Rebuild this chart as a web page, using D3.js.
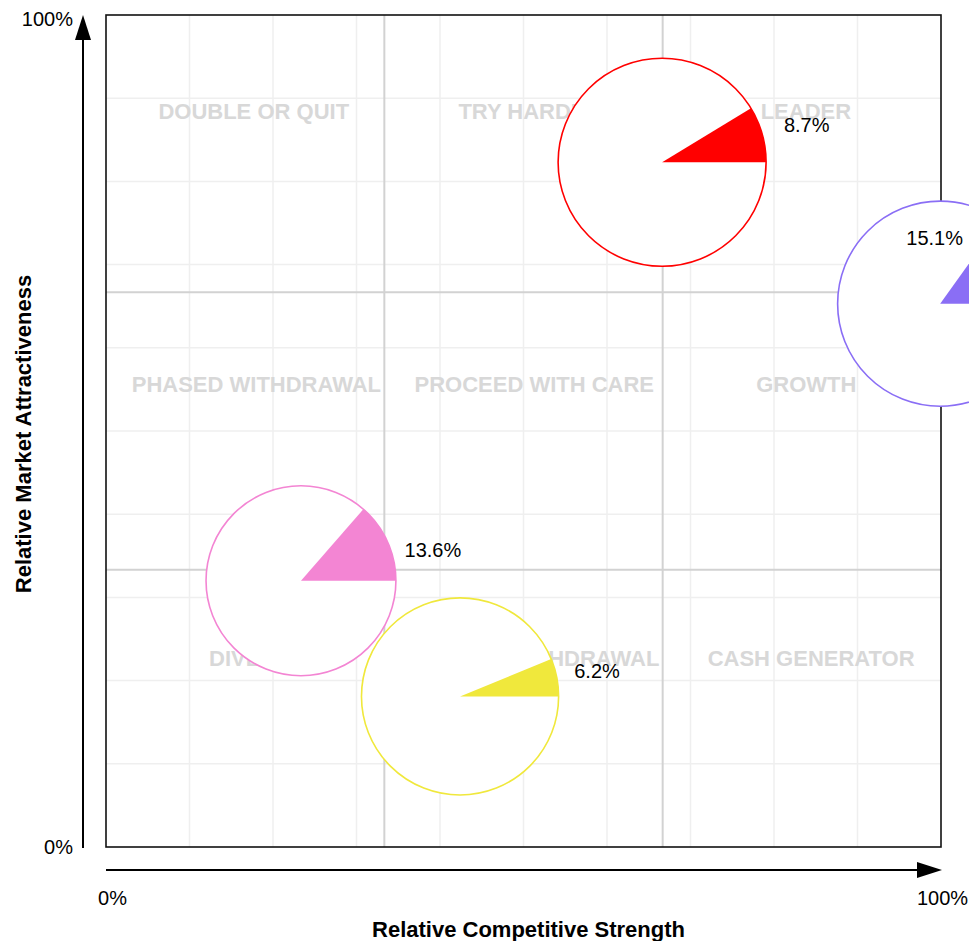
<!DOCTYPE html>
<html>
<head>
<meta charset="utf-8">
<script src="https://cdn.jsdelivr.net/npm/d3@7"></script>
<style>
  html, body { margin: 0; padding: 0; background: #fff; }
  svg { display: block; font-family: "Liberation Sans", Arial, Helvetica, sans-serif; }
</style>
</head>
<body>
<svg id="chart" width="969" height="941"></svg>
<script>
// Business portfolio: position (% of axis), market size and share per product
const strength       = [66.6, 99.9, 23.35, 42.4];
const attractiveness = [82.3, 65.3, 32.0, 18.1];
const marketSize     = [108, 105, 90, 97];
const share          = [8.7, 15.1, 13.6, 6.2];
const palette        = ["#ff0000", "#8a6ef5", "#f385d3", "#f0e83c"];

// Strategy names for the 3x3 grid, top row first, left to right
const quadrantNames = [
  ["DOUBLE OR QUIT", "TRY HARDER", "LEADER"],
  ["PHASED WITHDRAWAL", "PROCEED WITH CARE", "GROWTH"],
  ["DIVEST", "PHASED WITHDRAWAL", "CASH GENERATOR"]
];
const axisTicks = [0, 100];
const xTitle = "Relative Competitive Strength";
const yTitle = "Relative Market Attractiveness";

const W = 969, H = 941;
const plot = { left: 106, right: 941, top: 15, bottom: 847 };

const svg = d3.select("#chart");
const x = d3.scaleLinear().domain([0, 100]).range([plot.left, plot.right]);
const y = d3.scaleLinear().domain([0, 100]).range([plot.bottom, plot.top]);
const r = d3.scaleSqrt().domain([0, d3.max(marketSize)]).range([0, 104]);

// ---- grid ----
const grid = svg.append("g");
const minor = d3.range(10, 100, 10);
const major = [100 / 3, 200 / 3];
grid.selectAll("line.vx").data(minor).join("line")
  .attr("x1", d => x(d)).attr("x2", d => x(d))
  .attr("y1", plot.top).attr("y2", plot.bottom)
  .attr("stroke", "#efefef").attr("stroke-width", 1.5);
grid.selectAll("line.hy").data(minor).join("line")
  .attr("y1", d => y(d)).attr("y2", d => y(d))
  .attr("x1", plot.left).attr("x2", plot.right)
  .attr("stroke", "#efefef").attr("stroke-width", 1.5);
grid.selectAll("line.mx").data(major).join("line")
  .attr("x1", d => x(d)).attr("x2", d => x(d))
  .attr("y1", plot.top).attr("y2", plot.bottom)
  .attr("stroke", "#d2d2d2").attr("stroke-width", 2);
grid.selectAll("line.my").data(major).join("line")
  .attr("y1", d => y(d)).attr("y2", d => y(d))
  .attr("x1", plot.left).attr("x2", plot.right)
  .attr("stroke", "#d2d2d2").attr("stroke-width", 2);

// ---- strategy labels ----
const third = 100 / 3;
const nameBoxes = [];
quadrantNames.forEach((row, i) => {
  row.forEach((name, j) => {
    const cx = (x(j * third) + x((j + 1) * third)) / 2;
    const by = y(87.5 - i * 32.87);
    const t = svg.append("text")
      .attr("y", by)
      .attr("font-size", 22).attr("font-weight", "bold")
      .attr("fill", "#d8d8d8")
      .text(name);
    const w = t.node().getComputedTextLength();
    const x0 = cx - w * 0.455;
    t.attr("x", x0);
    nameBoxes.push({ x0, x1: x0 + w, base: by });
  });
});

// ---- plot frame ----
svg.append("rect")
  .attr("x", plot.left).attr("y", plot.top)
  .attr("width", plot.right - plot.left).attr("height", plot.bottom - plot.top)
  .attr("fill", "none").attr("stroke", "#111").attr("stroke-width", 1.6);

// ---- bubbles with share wedges ----
const items = strength.map((s, i) => ({
  s, a: attractiveness[i], size: marketSize[i], share: share[i], color: palette[i]
}));
const arc = d3.arc().innerRadius(0);
const bubble = svg.selectAll("g.bubble").data(items).join("g")
  .attr("class", "bubble")
  .attr("transform", d => `translate(${x(d.s)},${y(d.a)})`);
bubble.append("circle")
  .attr("r", d => r(d.size))
  .attr("fill", "#fff")
  .attr("stroke", d => d.color).attr("stroke-width", 1.6);
bubble.append("path")
  .attr("d", d => arc({
    outerRadius: r(d.size),
    startAngle: Math.PI / 2 - d.share / 100 * 2 * Math.PI,
    endAngle: Math.PI / 2
  }))
  .attr("fill", d => d.color);

// value labels: right of each bubble; dropped below a strategy name they would hit,
// pulled inside the bubble when they would leave the canvas
bubble.each(function (d) {
  const rad = r(d.size);
  const cx = x(d.s), cy = y(d.a);
  const t = d3.select(this).append("text")
    .attr("font-size", 20).attr("fill", "#000")
    .text(d.share + "%");
  const w = t.node().getComputedTextLength();
  let lx = cx + 1.4 * rad - 1, base = cy - 0.25 * rad;
  if (lx + w / 2 > W - 4) {
    lx = (W - 6) - w / 2;
    base = cy - 0.575 * rad;
  } else {
    nameBoxes.forEach(b => {
      const hitX = lx + w / 2 > b.x0 && lx - w / 2 < b.x1;
      const hitY = base - 15 < b.base + 5 && base + 4 > b.base - 16;
      if (hitX && hitY) base = b.base + 12.5;
    });
  }
  t.attr("x", lx - cx).attr("y", base - cy).attr("text-anchor", "middle");
});

// ---- axes with arrows ----
const xAxisY = 870, yAxisX = 83;
const xAxis = svg.append("g")
  .attr("transform", `translate(0,${xAxisY})`)
  .call(d3.axisBottom(x).tickValues(axisTicks).tickSize(0).tickPadding(21)
    .tickFormat(d => d + "%"));
xAxis.select(".domain").remove();
xAxis.selectAll("text").attr("font-size", 20).attr("fill", "#000")
  .attr("font-family", "Liberation Sans, Arial, sans-serif")
  .attr("dx", d => d === 0 ? 6 : 1);

const yAxis = svg.append("g")
  .attr("transform", `translate(${yAxisX},0)`)
  .call(d3.axisLeft(y).tickValues(axisTicks).tickSize(0).tickPadding(10)
    .tickFormat(d => d + "%"));
yAxis.select(".domain").remove();
yAxis.selectAll("text").attr("font-size", 20).attr("fill", "#000")
  .attr("font-family", "Liberation Sans, Arial, sans-serif")
  .attr("dy", d => d === 100 ? "0.52em" : "0.32em");

const head = 25, half = 8;
svg.append("line")
  .attr("x1", x(0)).attr("x2", x(100) + 1 - head)
  .attr("y1", xAxisY).attr("y2", xAxisY)
  .attr("stroke", "#000").attr("stroke-width", 2);
svg.append("path")
  .attr("d", `M${x(100) + 1},${xAxisY} L${x(100) + 1 - head},${xAxisY - half} L${x(100) + 1 - head},${xAxisY + half} Z`)
  .attr("fill", "#000");
svg.append("line")
  .attr("x1", yAxisX).attr("x2", yAxisX)
  .attr("y1", y(0) + 1).attr("y2", y(100) + head)
  .attr("stroke", "#000").attr("stroke-width", 2);
svg.append("path")
  .attr("d", `M${yAxisX},${y(100)} L${yAxisX - half},${y(100) + head} L${yAxisX + half},${y(100) + head} Z`)
  .attr("fill", "#000");

// ---- axis titles ----
svg.append("text")
  .attr("x", (plot.left + plot.right) / 2 + 5).attr("y", 937)
  .attr("text-anchor", "middle")
  .attr("font-size", 22).attr("font-weight", "bold").attr("fill", "#000")
  .text(xTitle);
svg.append("text")
  .attr("transform", `translate(31,${(plot.top + plot.bottom) / 2 + 3}) rotate(-90)`)
  .attr("text-anchor", "middle")
  .attr("font-size", 22).attr("font-weight", "bold").attr("fill", "#000")
  .text(yTitle);
</script>
</body>
</html>
